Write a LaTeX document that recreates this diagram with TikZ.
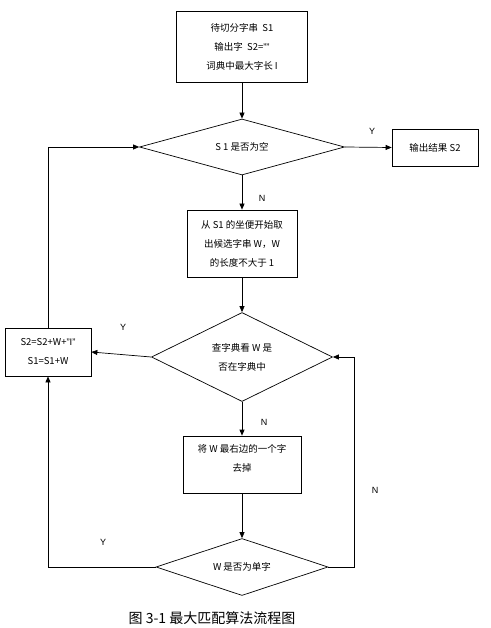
\documentclass[tikz,border=0pt]{standalone}
\usepackage{fontspec}
\setmainfont{Noto Sans CJK SC}
\newfontfamily\latinfont{Liberation Sans}
\usetikzlibrary{shapes.geometric,arrows.meta}
\begin{document}
\begin{tikzpicture}[x=1pt,y=-1pt,line width=0.7pt,
  font=\fontsize{9.5}{19}\selectfont,
  box/.style={draw,align=center,inner sep=0pt},
  decision/.style={draw,diamond,aspect=3,inner sep=0pt,align=center},
  arr/.style={-{Triangle[length=6pt,width=5pt]}},
  lab/.style={font=\latinfont\fontsize{9}{10}\selectfont}]
\useasboundingbox (0,0) rectangle (490,628);
% main column
\node[box,minimum width=131pt,minimum height=71pt] (input) at (242,47) {待切分字串\ \ S1\\输出字\ \ S2={\latinfont ””}\\词典中最大字长 I};
\node[decision,minimum width=205pt,minimum height=56pt] (empty) at (242,147) {S 1 是否为空};
\node[box,minimum width=86pt,minimum height=37pt] (output) at (435,147.5) {输出结果 S2};
\node[box,minimum width=110pt,minimum height=67pt] (cut) at (242,243.5) {从 S1 的坐便开始取\\出候选字串 W，W\\的长度不大于 1};
\node[decision,minimum width=181pt,minimum height=89pt] (lookup) at (242,357) {查字典看 W 是\\否在字典中};
\node[box,minimum width=86pt,minimum height=48pt] (append) at (48,352) {S2=S2+W+{\latinfont ”I”}\\S1=S1+W};
\node[box,minimum width=118pt,minimum height=57pt] (drop) at (242,464.5) {将 W 最右边的一个字\\去掉\\[-6pt]\mbox{}};
\node[decision,minimum width=172pt,minimum height=57pt] (single) at (242,567) {W 是否为单字};
\coordinate (back) at (354,567);
% labels
\node[lab] (y1) at (372,131) {Y};
\node[lab] (n1) at (262,198) {N};
\node[lab] (y2) at (123,327) {Y};
\node[lab] (n2) at (264,422) {N};
\node[lab] (y3) at (103,542) {Y};
\node[lab] (n3) at (375,490) {N};
\node[font=\fontsize{14}{16}\selectfont] (caption) at (212,618) {图 3-1 最大匹配算法流程图};
% connectors
\draw[arr] (input) -- (empty);
\draw[arr] (empty.east) -- (output.west);
\draw[arr] (empty) -- (cut);
\draw[arr] (cut) -- (lookup);
\draw[arr] (lookup.west) -- (append.east);
\draw[arr] (append.north) |- (empty.west);
\draw[arr] (lookup) -- (drop);
\draw[arr] (drop) -- (single);
\draw[arr] (single.west) -| (append.south);
\draw[arr] (single.east) -- (back) |- (lookup.east);
\end{tikzpicture}
\end{document}
